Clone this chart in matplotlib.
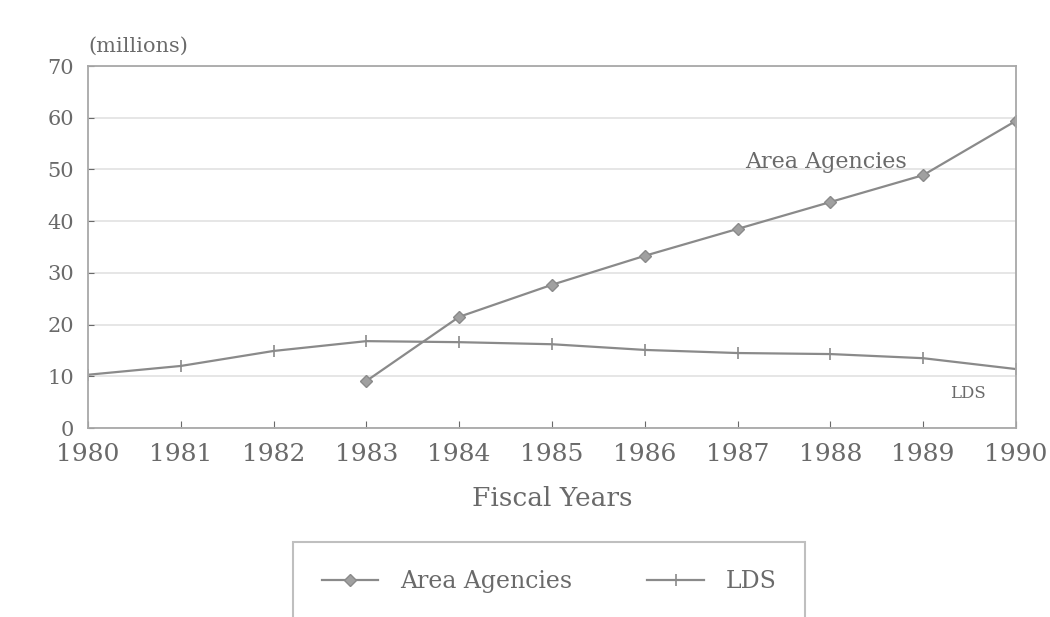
import matplotlib.pyplot as plt

years = [1980, 1981, 1982, 1983, 1984, 1985, 1986, 1987, 1988, 1989, 1990]
area_years = [1983, 1984, 1985, 1986, 1987, 1988, 1989, 1990]
area_agencies = [9.1, 21.5, 27.7, 33.3, 38.5, 43.7, 48.9, 59.4]
lds = [10.3, 12.0, 14.9, 16.8, 16.6, 16.2, 15.1, 14.5, 14.3, 13.5, 11.4]
yticks = [0, 10, 20, 30, 40, 50, 60, 70]

plt.rcParams['font.family'] = ['DejaVu Serif']
txt = '#6a6a6a'
line_c = '#8a8a8a'

fig = plt.figure(figsize=(10.5, 6.17), dpi=100)
ax = fig.add_axes([0.0838, 0.3063, 0.8838, 0.5867])

## lines
ax.plot(area_years, area_agencies, color=line_c, lw=1.6, marker='D', ms=6,
        mfc='#a0a0a0', mec='#8a8a8a', label='Area Agencies')
ax.plot(years, lds, color=line_c, lw=1.6, marker='|', ms=8, mew=1.2,
        label='LDS')

ax.set_xlim(1980, 1990)
ax.set_ylim(0, 70)
ax.set_xticks(years)
ax.set_yticks(yticks)
ax.tick_params(axis='x', labelsize=18, colors=txt, direction='in', length=5, pad=11)
ax.tick_params(axis='y', labelsize=15, colors=txt, direction='in', length=4, pad=10)
ax.grid(axis='y', color='#e2e2e2', lw=1.2)
for s in ax.spines.values():
    s.set_color('#a8a8a8')
    s.set_linewidth(1.3)

ax.set_xlabel('Fiscal Years', fontsize=19, color=txt, labelpad=14)
fig.text(88 / 1050, 1 - 46 / 617, '(millions)', fontsize=15, color=txt,
         ha='left', va='center')

## series labels
ax.text(1987.08, 51.5, 'Area Agencies', fontsize=16, color=txt, ha='left', va='center')
ax.text(1989.67, 6.6, 'LDS', fontsize=12, color=txt, ha='right', va='center')

leg = fig.legend(loc='upper center', bbox_to_anchor=(549 / 1050, 1 - 530 / 617),
                 ncol=2, fontsize=17, frameon=True, fancybox=False,
                 edgecolor='#b0b0b0', borderpad=1.2, handlelength=2.4,
                 handletextpad=0.9, columnspacing=3.2, labelcolor=txt)
leg.get_frame().set_linewidth(1.5)

fig.savefig('out.png', dpi=100)
